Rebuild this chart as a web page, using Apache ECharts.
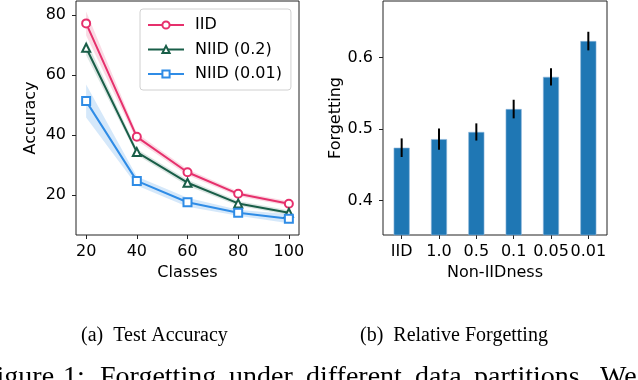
<!DOCTYPE html>
<html>
<head>
    <meta charset="utf-8">
    <title>Forgetting</title>
    <script src="https://cdn.jsdelivr.net/npm/echarts@6/dist/echarts.min.js"></script>
</head>
<body style="margin:0;background:#fff">
<div id="main" style="width: 638px;height:380px;"></div>
<script type="text/javascript">
    // (a) test accuracy
    var classes = [20, 40, 60, 80, 100];
    var iid = [77.2, 39.4, 27.6, 20.4, 17.1];
    var iidErr = [4, 1.2, 1.0, 0.8, 0.8];
    var niid02 = [69.1, 34.3, 24.1, 17.2, 14.1];
    var niid02Err = [2.5, 1.0, 1.0, 0.8, 0.8];
    var niid001 = [51.3, 24.7, 17.6, 14.1, 12.1];
    var niid001Err = [5.5, 1.5, 1.5, 1.0, 1.5];
    var accTicks = [20, 40, 60, 80];

    // (b) relative forgetting
    var partitions = ['IID', '1.0', '0.5', '0.1', '0.05', '0.01'];
    var forgetting = [0.474, 0.486, 0.496, 0.528, 0.573, 0.623];
    var forgettingErr = [0.013, 0.015, 0.012, 0.013, 0.012, 0.013];
    var forgetTicks = [0.4, 0.5, 0.6];

    var font = 'DejaVu Sans';
    var myChart = echarts.init(document.getElementById('main'));

    function pts(ys) {
        return classes.map(function (x, i) { return [x, ys[i]]; });
    }
    // shaded band (mean +- err) as one polygon through the axes
    function band(ys, errs, color) {
        return {
            type: 'custom', xAxisIndex: 0, yAxisIndex: 0, silent: true, z: 1,
            data: [[0]],
            renderItem: function (params, api) {
                var top = [], bot = [];
                for (var i = 0; i < classes.length; i++) {
                    top.push(api.coord([classes[i], ys[i] + errs[i]]));
                    bot.unshift(api.coord([classes[i], ys[i] - errs[i]]));
                }
                return {
                    type: 'polygon',
                    shape: {points: top.concat(bot)},
                    style: {fill: color}
                };
            }
        };
    }
    function line(name, ys, color, symbol) {
        return {
            name: name, type: 'line', data: pts(ys), z: 3,
            symbol: symbol, symbolSize: 8,
            itemStyle: {color: color, borderColor: color, borderWidth: 1.5},
            lineStyle: {color: color, width: 2}
        };
    }

    var series = [
        band(iid, iidErr, 'rgba(230,48,108,0.18)'),
        band(niid02, niid02Err, 'rgba(25,94,72,0.16)'),
        band(niid001, niid001Err, 'rgba(47,140,230,0.2)'),
        line('IID', iid, '#e6306c', 'emptyCircle'),
        line('NIID (0.2)', niid02, '#195e48', 'emptyTriangle'),
        line('NIID (0.01)', niid001, '#2f8ce6', 'emptyRect')
    ];

    // bars + error bars
    series.push({
        type: 'bar', xAxisIndex: 1, yAxisIndex: 1, data: forgetting,
        barWidth: 16,
        itemStyle: {color: '#1f77b4', borderColor: '#8db6da', borderWidth: 0.6}
    });
    series.push({
        type: 'custom', xAxisIndex: 1, yAxisIndex: 1, z: 5,
        data: forgetting.map(function (v, i) { return [i, v - forgettingErr[i], v + forgettingErr[i]]; }),
        renderItem: function (params, api) {
            var a = api.coord([api.value(0), api.value(1)]);
            var b = api.coord([api.value(0), api.value(2)]);
            return {
                type: 'line',
                shape: {x1: a[0], y1: a[1], x2: b[0], y2: b[1]},
                style: {stroke: '#000', lineWidth: 2}
            };
        }
    });

    var axisText = {color: '#000', fontFamily: font, fontSize: 16};

    // caption line under the figure (cut off by the bottom edge)
    var words = [['Figure', -19], ['1:', 63], ['Forgetting', 100], ['under', 229],
                 ['different', 306], ['data', 415], ['partitions.', 474], ['We', 600]];
    var graphics = [
        {type: 'text', left: 81, top: 326, style: {text: '(a)  Test Accuracy', fontFamily: 'Liberation Serif', fontSize: 20, fill: '#000'}},
        {type: 'text', left: 360, top: 326, style: {text: '(b)  Relative Forgetting', fontFamily: 'Liberation Serif', fontSize: 20, fill: '#000'}}
    ];
    words.forEach(function (w) {
        graphics.push({type: 'text', x: w[1], y: 364,
            style: {text: w[0], fontFamily: 'Liberation Serif', fontSize: 28, fill: '#000'}});
    });

    option = {
        animation: false,
        grid: [
            {left: 76, top: 1, width: 223, height: 234, show: true, borderColor: '#222', borderWidth: 1},
            {left: 383, top: 1, width: 224, height: 234, show: true, borderColor: '#222', borderWidth: 1}
        ],
        xAxis: [{
            type: 'value', gridIndex: 0, min: 16, max: 104,
            name: 'Classes', nameLocation: 'middle', nameGap: 28, nameTextStyle: axisText,
            axisLine: {show: false}, splitLine: {show: false},
            axisTick: {show: true, length: 4, customValues: classes, lineStyle: {color: '#222'}},
            axisLabel: Object.assign({margin: 9, customValues: classes}, axisText)
        }, {
            type: 'category', gridIndex: 1, data: partitions,
            name: 'Non-IIDness', nameLocation: 'middle', nameGap: 27, nameTextStyle: axisText,
            axisLine: {show: false},
            axisTick: {show: true, length: 4, alignWithLabel: true, lineStyle: {color: '#222'}},
            axisLabel: Object.assign({margin: 9, interval: 0}, axisText)
        }],
        yAxis: [{
            type: 'value', gridIndex: 0, min: 6.67, max: 84.67,
            name: 'Accuracy', nameLocation: 'middle', nameGap: 37, nameTextStyle: axisText,
            axisLine: {show: false}, splitLine: {show: false},
            axisTick: {show: true, length: 4, customValues: accTicks, lineStyle: {color: '#222'}},
            axisLabel: Object.assign({margin: 10, customValues: accTicks}, axisText)
        }, {
            type: 'value', gridIndex: 1, min: 0.352, max: 0.679,
            name: 'Forgetting', nameLocation: 'middle', nameGap: 38, nameTextStyle: axisText,
            axisLine: {show: false}, splitLine: {show: false},
            axisTick: {show: true, length: 4, customValues: forgetTicks, lineStyle: {color: '#222'}},
            axisLabel: Object.assign({
                margin: 10, customValues: forgetTicks,
                formatter: function (v) { return v.toFixed(1); }
            }, axisText)
        }],
        legend: {
            data: ['IID', 'NIID (0.2)', 'NIID (0.01)'],
            orient: 'vertical', left: 140, top: 9,
            padding: [8, 9, 8, 7], itemGap: 8.5,
            itemWidth: 36, itemHeight: 9,
            backgroundColor: 'rgba(255,255,255,0.8)',
            borderColor: '#d0d0d0', borderWidth: 1, borderRadius: 3,
            textStyle: Object.assign({padding: [0, 0, 0, 6], lineHeight: 16}, axisText)
        },
        graphic: graphics,
        series: series
    };

    myChart.setOption(option);
</script>
</body>
</html>
